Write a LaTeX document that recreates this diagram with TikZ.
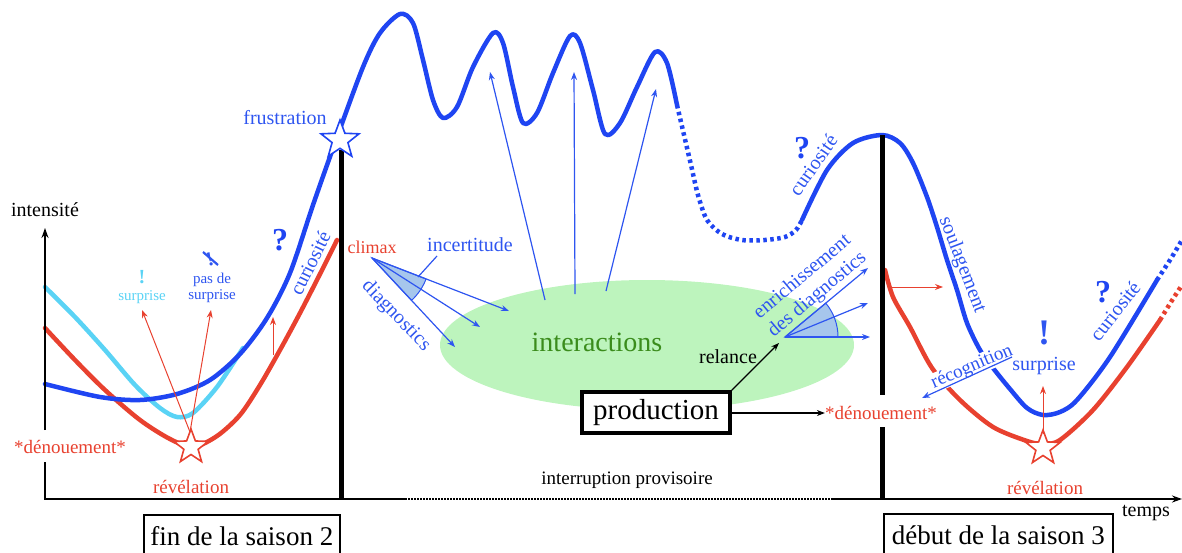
\documentclass[tikz,border=0pt]{standalone}
\usepackage{fontspec}
\setmainfont{Liberation Serif}
\usetikzlibrary{arrows.meta,shapes.geometric}
\definecolor{cblue}{HTML}{1F45F2}
\definecolor{tblue}{HTML}{2E55F0}
\definecolor{cred}{HTML}{E8412F}
\definecolor{ccyan}{HTML}{5AD3F5}
\definecolor{cgreen}{HTML}{BDF4BD}
\definecolor{cgtext}{HTML}{3B8C1C}
\definecolor{csector}{HTML}{A6C6EC}
\newcommand\myfs[1]{\fontsize{#1}{#1}\selectfont}
\newcommand\myfss[2]{\fontsize{#1}{#2}\selectfont}
\begin{document}
\begin{tikzpicture}[x=1pt,y=-1pt,
  curve/.style={line width=4.5pt,line cap=round,line join=round},
  dotcurve/.style={line width=4.5pt,dash pattern=on 3.5pt off 3.5pt},
  thinarr/.style={line width=1.2pt,-{Stealth[length=8pt,width=6pt]}},
  axis/.style={line width=2.8pt},
  bar/.style={line width=5pt},
  lbl/.style={inner sep=0pt,font=\myfs{20}},
  small/.style={inner sep=0pt,font=\myfs{15}},
  qm/.style={inner sep=0pt,font=\bfseries\myfs{32},text=cblue},
  starshape/.style={star,star points=5,star point ratio=2.4,fill=white,line width=1.6pt,inner sep=0pt},
  seasonbox/.style={draw,line width=1.5pt,anchor=north west,font=\myfs{27},inner xsep=4pt,inner ysep=5pt,text height=26pt,text depth=10pt}
]
\useasboundingbox (0,0) rectangle (1182,552);

% green ellipse
\node[ellipse,fill=cgreen,minimum width=414pt,minimum height=130pt,inner sep=0pt] (ell) at (647,345) {};

% curves -- red (left)
\draw[curve,cred] plot[smooth] coordinates {(45,328) (75,360) (105,390) (140,420) (170,439) (193,447) (217,436) (240,415) (260,385) (280,350) (300,313) (320,274) (337,240)};
% cyan
\draw[curve,ccyan] plot[smooth] coordinates {(45,287) (75,317) (105,350) (135,385) (160,408) (177,417) (193,413) (217,387) (243,348)};
% blue main
\draw[curve,cblue] plot[smooth] coordinates {(45,384) (100,397) (140,400) (177,394) (210,380) (240,354) (267,318) (290,273) (313,205) (336,140) (363,67) (380,33) (400,14) (413,23) (423,60) (433,100) (443,118) (457,107) (473,67) (493,33) (503,43) (513,87) (523,123) (537,113) (553,73) (570,36) (580,43) (593,90) (605,134) (620,123) (637,87) (655,52) (667,63) (677,105)};
\draw[dotcurve,cblue] plot[smooth] coordinates {(677,105) (684,135) (691,165) (698,195) (707,220) (722,234) (742,240) (765,240) (785,237) (796,230) (802,220)};
\draw[curve,cblue] plot[smooth] coordinates {(802,220) (827,170) (853,143) (882,135) (900,143) (913,163) (927,197) (937,227) (947,260) (957,290) (967,323) (980,350) (993,368) (1010,389) (1027,408) (1043,415) (1060,412) (1077,400) (1110,357) (1157,280)};
\draw[dotcurve,cblue] plot[smooth] coordinates {(1157,280) (1170,260) (1182,240)};
% red right
\draw[curve,cred] plot[smooth] coordinates {(885,270) (893,297) (910,327) (932,368) (960,400) (993,427) (1027,441) (1043,444) (1060,440) (1093,410) (1127,367) (1160,320)};
\draw[dotcurve,cred] plot[smooth] coordinates {(1160,320) (1171,302) (1182,285)};

% axes
\coordinate (o) at (45,499);
\coordinate (ytop) at (45,228);
\coordinate (yg1) at (45,430);
\coordinate (yg2) at (45,462);
\coordinate (xd1) at (405,499);
\coordinate (xd2) at (833,499);
\coordinate (xend) at (1182,499);
\draw[axis,-{Stealth[length=10pt,width=7pt]}] (yg1) -- (ytop);
\draw[axis] (yg2) -- (o) -- (xd1);
\draw[line width=2pt,dash pattern=on 1.5pt off 1.5pt] (xd1) -- (xd2);
\draw[axis,-{Stealth[length=10pt,width=7pt]}] (xd2) -- (xend);

% black bars
\coordinate (b1t) at (341,150);
\coordinate (b1b) at (341,499);
\coordinate (b2t) at (882,135);
\coordinate (b2m) at (882,395);
\coordinate (b2n) at (882,427);
\coordinate (b2b) at (882,499);
\draw[bar] (b1t) -- (b1b);
\draw[bar] (b2t) -- (b2m);
\draw[bar] (b2n) -- (b2b);

% stars
\node[starshape,draw=cblue,minimum size=40pt] (bstar) at (340,140) {};
\node[starshape,draw=cred,minimum size=36pt] (rstarL) at (191,447) {};
\node[starshape,draw=cred,minimum size=36pt] (rstarR) at (1043,448) {};

% left fan
\coordinate (fanL) at (372,258);
\fill[csector,draw=tblue,line width=1pt] (fanL) -- ++(21.2:58) arc[start angle=21.2,end angle=47,radius=58] -- cycle;
\coordinate (fl1) at (509,311);
\coordinate (fl2) at (480,327);
\coordinate (fl3) at (455,347);
\draw[thinarr,tblue] (fanL) -- (fl1);
\draw[thinarr,tblue] (fanL) -- (fl2);
\draw[thinarr,tblue] (fanL) -- (fl3);

% right fan
\coordinate (fanR) at (785,337);
\fill[csector,draw=tblue,line width=1pt] (fanR) -- ++(0:53) arc[start angle=0,end angle=-39.7,radius=53] -- cycle;
\coordinate (fr1) at (870,337);
\coordinate (fr2) at (868,303);
\coordinate (fr3) at (868,268);
\draw[thinarr,tblue] (fanR) -- (fr1);
\draw[thinarr,tblue] (fanR) -- (fr2);
\draw[thinarr,tblue] (fanR) -- (fr3);

% upward arrows to the wave
\coordinate (u1s) at (545,300); \coordinate (u1e) at (490,72);
\coordinate (u2s) at (575,294); \coordinate (u2e) at (574,72);
\coordinate (u3s) at (606,291); \coordinate (u3e) at (656,89);
\draw[thinarr,tblue] (u1s) -- (u1e);
\draw[thinarr,tblue] (u2s) -- (u2e);
\draw[thinarr,tblue] (u3s) -- (u3e);

% labels
\node[lbl] (intens) at (45,210) {intensité};
\node[lbl,text=tblue] (frus) at (285,118) {frustration};
\node[lbl,text=cred,font=\myfs{18}] (climax) at (372,247) {climax};
\node[lbl,text=tblue] (incert) at (470,245) {incertitude};
\coordinate (incs) at (437,256);
\coordinate (incp) at (418,277);
\draw[tblue,line width=1.2pt] (incs) -- (incp);
\node[lbl,text=tblue,rotate=-46] (diag) at (396,316) {diagnostics};
\node[inner sep=0pt,text=cgtext,font=\myfs{28}] (inter) at (597,342) {interactions};
\node[draw,line width=3.5pt,fill=white,minimum width=148pt,minimum height=41pt,inner sep=0pt,font=\myfs{29}] (prod) at (656,412.5) {production};
\node[lbl] (relance) at (728,357) {relance};
\node[lbl,text=cred,font=\myfs{19}] (denR) at (881,413) {*dénouement*};
\node[lbl,text=cred,font=\myfs{19}] (denL) at (70,447) {*dénouement*};
\coordinate (relEnd) at (779,343);
\draw[line width=1.2pt,-{Stealth[length=8pt,width=6pt]}] (prod.north east) -- (relEnd);
\draw[line width=1.2pt,-{Stealth[length=8pt,width=6pt]}] (prod.east |- denR) -- (denR.west);

\node[lbl,text=cred,font=\myfs{19}] (revL) at (191,487) {révélation};
\node[lbl,text=cred,font=\myfs{19}] (revR) at (1045,488) {révélation};
\node[lbl,font=\myfs{19}] (interr) at (627,480) {interruption provisoire};
\node[lbl] (temps) at (1146,513) {temps};
\node[seasonbox,minimum width=196pt] (fin) at (143,514) {fin de la saison 2};
\node[seasonbox,minimum width=229pt] (debut) at (883,513) {début de la saison 3};

% left small labels
\node[inner sep=0pt,font=\bfseries\myfs{20},text=ccyan] (excC) at (142,277) {!};
\node[small,text=ccyan] (surC) at (142,297) {surprise};
\node[inner sep=0pt,font=\bfseries\myfs{20},text=tblue,rotate=15] (excB) at (210,259) {!};
\coordinate (xc1) at (203,252);
\coordinate (xc2) at (218,265);
\draw[tblue,line width=2.2pt] (xc1) -- (xc2);
\node[small,text=tblue,align=center,font=\myfss{15}{16}] (pasde) at (212,288) {pas de\\surprise};
\coordinate (ra0) at (190,432);
\coordinate (ra1) at (142,310);
\coordinate (ra2) at (211,310);
\draw[thinarr,cred,line width=1pt] (ra0) -- (ra1);
\draw[thinarr,cred,line width=1pt] (ra0) -- (ra2);
\coordinate (ra3s) at (273,355);
\coordinate (ra3e) at (273,317);
\draw[thinarr,cred,line width=1pt] (ra3s) -- (ra3e);

\node[qm] (qL) at (280,240) {?};
\node[lbl,text=tblue,rotate=64] (curL) at (310,263) {curiosité};
\node[qm] (qM) at (802,148) {?};
\node[lbl,text=tblue,rotate=55] (curM) at (813,165) {curiosité};
\node[lbl,text=tblue,rotate=-69] (soul) at (962,265) {soulagement};
\node[lbl,text=tblue,rotate=40,align=center,font=\myfss{20}{23}] (enrich) at (810,286) {enrichissement\\des diagnostics};
\node[qm] (qR) at (1103,292) {?};
\node[lbl,text=tblue,rotate=52] (curR) at (1115,311) {curiosité};
\node[inner sep=0pt,font=\bfseries\myfs{36},text=tblue] (excR) at (1044,333) {!};
\node[lbl,text=tblue] (surR) at (1044,366) {surprise};
\node[lbl,text=tblue,font=\myfs{19},rotate=23,fill=white,inner sep=1pt] (recog) at (972,367) {récognition};
\coordinate (rcs) at (1012,357);
\coordinate (rce) at (922,398);
\draw[thinarr,tblue] (rcs) -- (rce);

% red arrows right
\coordinate (rr1) at (890,287);
\coordinate (rr2) at (943,287);
\draw[thinarr,cred,line width=1pt] (rr1) -- (rr2);
\coordinate (rr0) at (1043,434);
\coordinate (rr3) at (1043,386);
\draw[thinarr,cred,line width=1pt] (rr0) -- (rr3);
\end{tikzpicture}
\end{document}
